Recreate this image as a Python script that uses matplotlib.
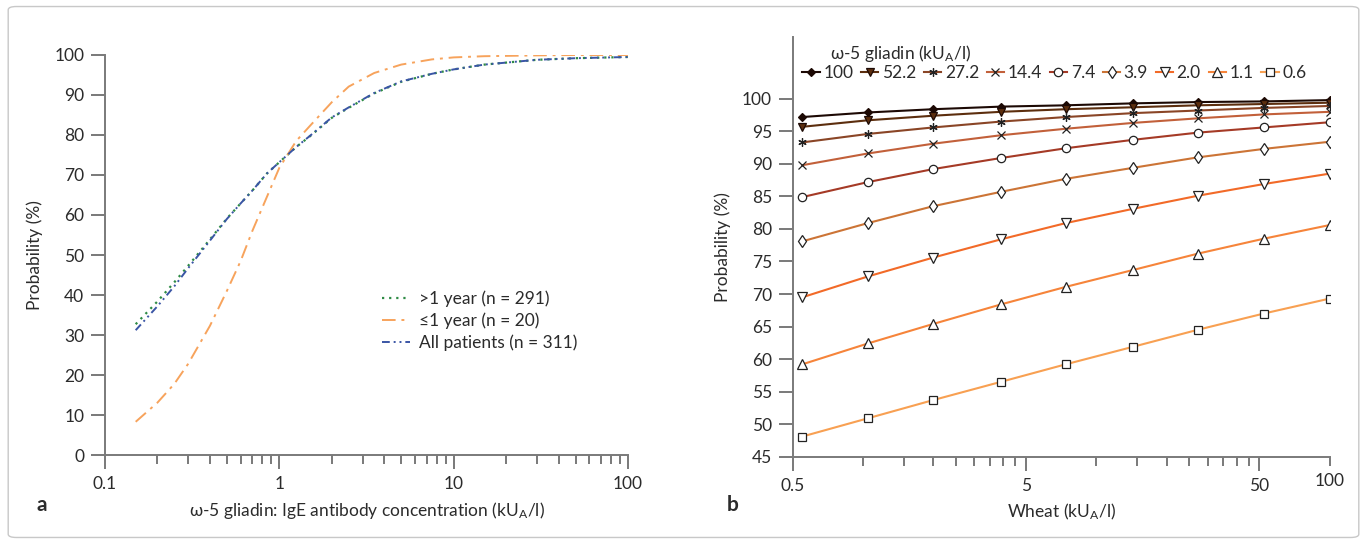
"""two-panel probability chart: omega-5 gliadin curves (a) and wheat/gliadin grid (b)"""

import matplotlib
matplotlib.use('Agg')
import matplotlib.pyplot as plt
from matplotlib.patches import FancyBboxPatch

plt.rcParams['font.family'] = ['Lato', 'DejaVu Sans']
plt.rcParams['mathtext.fontset'] = 'custom'
plt.rcParams['mathtext.rm'] = 'Lato'
plt.rcParams['mathtext.it'] = 'Lato:italic'

# panel a: IgE concentration vs probability
conc = [0.15, 0.2, 0.25, 0.3, 0.4, 0.5, 0.6, 0.7, 0.85, 1.0, 1.25, 1.5,
        2.0, 2.5, 3.5, 5, 7.5, 10, 15, 30, 50, 100]
prob_over1 = [32.7, 38.4, 43.2, 47.3, 53.9, 59.1, 62.9, 66.1, 70.4, 73.2, 77.0, 79.7,
              84.3, 86.8, 90.4, 93.3, 95.3, 96.4, 97.6, 98.8, 99.2, 99.5]
prob_under1 = [8.3, 13.1, 17.8, 22.8, 32.3, 41.0, 48.5, 56.0, 64.6, 71.8, 78.5, 82.3,
               88.2, 92.1, 95.5, 97.6, 98.9, 99.4, 99.7, 99.9, 100.0, 100.0]
prob_all = [31.2, 37.2, 42.2, 46.7, 53.6, 59.0, 62.9, 66.1, 70.4, 73.2, 77.0, 79.8,
            84.4, 86.9, 90.5, 93.4, 95.3, 96.4, 97.6, 98.8, 99.2, 99.5]

# panel b: wheat concentration vs probability, one series per gliadin level
wheat = [0.55, 1.05, 2.0, 3.9, 7.4, 14.4, 27.2, 52.2, 100]
gliadin_levels = ['100', '52.2', '27.2', '14.4', '7.4', '3.9', '2.0', '1.1', '0.6']
prob_b = {
    '100':  [97.2, 97.9, 98.4, 98.8, 99.0, 99.3, 99.5, 99.6, 99.8],
    '52.2': [95.7, 96.7, 97.4, 98.0, 98.4, 98.7, 99.0, 99.2, 99.4],
    '27.2': [93.3, 94.6, 95.6, 96.5, 97.2, 97.8, 98.2, 98.6, 98.9],
    '14.4': [89.8, 91.6, 93.1, 94.4, 95.4, 96.3, 97.0, 97.6, 98.0],
    '7.4':  [84.9, 87.2, 89.2, 90.9, 92.4, 93.7, 94.8, 95.6, 96.4],
    '3.9':  [78.1, 80.9, 83.5, 85.7, 87.7, 89.4, 91.0, 92.3, 93.4],
    '2.0':  [69.5, 72.7, 75.6, 78.4, 80.9, 83.1, 85.1, 86.9, 88.5],
    '1.1':  [59.2, 62.4, 65.4, 68.4, 71.1, 73.7, 76.2, 78.5, 80.6],
    '0.6':  [48.1, 50.9, 53.7, 56.5, 59.2, 61.9, 64.5, 67.0, 69.3],
}

# style per series: (line colour, marker, marker face, marker size)
styles_b = {
    '100':  ('#1c0904', 'D', '#1c0904', 4.5),
    '52.2': ('#5c2e0e', 'v', '#5c2e0e', 6),
    '27.2': ('#8a4526', (6, 2, 0), 'none', 6),
    '14.4': ('#c2603a', 'x', 'none', 6),
    '7.4':  ('#a53a26', 'o', 'white', 6),
    '3.9':  ('#cc7436', 'd', 'white', 6),
    '2.0':  ('#f26a28', 'v', 'white', 6.5),
    '1.1':  ('#f6843a', '^', 'white', 6.5),
    '0.6':  ('#f8a052', 's', 'white', 6),
}

spine_col = '#7a7a7a'
text_col = '#2b2b2b'
fs = 12.5

fig = plt.figure(figsize=(13.67, 5.44), dpi=100)

# thin rounded frame around the whole figure
fig.patches.append(FancyBboxPatch((0.006, 0.012), 0.988, 0.976,
                                  boxstyle='round,pad=0,rounding_size=0.006',
                                  transform=fig.transFigure, fill=False,
                                  edgecolor='#c8c8c8', linewidth=1.0))


def style_axes(ax):
    for side in ['top', 'right']:
        ax.spines[side].set_visible(False)
    for side in ['left', 'bottom']:
        ax.spines[side].set_color(spine_col)
        ax.spines[side].set_linewidth(1.4)
    ax.tick_params(which='major', direction='out', length=10, width=1.1,
                   color='#555555', labelsize=fs, labelcolor=text_col, pad=5)
    ax.tick_params(which='minor', direction='out', length=6.5, width=1.1,
                   color='#555555', labelsize=fs, labelcolor=text_col, pad=5)


# ---- panel a ----
ax1 = fig.add_axes([0.0768, 0.1636, 0.3826, 0.7353])
ax1.plot(conc, prob_over1, color='#2e8b45', lw=1.6, linestyle=(0, (1, 2.2)),
         label='>1 year (n = 291)')
ax1.plot(conc, prob_under1, color='#f7a35c', lw=1.4, linestyle=(0, (7, 3, 1.5, 3)),
         label='\u22641 year (n = 20)')
ax1.plot(conc, prob_all, color='#3a55a5', lw=1.4, linestyle=(0, (4, 2, 1, 2, 1, 2)),
         label='All patients (n = 311)')
ax1.set_xscale('log')
ax1.set_xlim(0.1, 100)
ax1.set_ylim(0, 100)
ax1.set_yticks(range(0, 101, 10))
ax1.set_xticks([0.1, 1, 10, 100], ['0.1', '1', '10', '100'])
ax1.set_xticks([m * d for d in [0.1, 1, 10] for m in range(2, 10)], minor=True)
ax1.xaxis.set_minor_formatter(plt.NullFormatter())
style_axes(ax1)
ax1.set_xlabel('\u03c9-5 gliadin: IgE antibody concentration (kU$_\\mathregular{A}$/l)',
               fontsize=fs, color=text_col, labelpad=6)
ax1.set_ylabel('Probability (%)', fontsize=fs, color=text_col, labelpad=8)
ax1.legend(loc='upper left', bbox_to_anchor=(0.5, 0.45), frameon=False,
           fontsize=fs, handlelength=1.6, handletextpad=0.5, labelspacing=0.3,
           labelcolor=text_col)

# ---- panel b ----
ax2 = fig.add_axes([0.5799, 0.1605, 0.3928, 0.7715])
for lev in gliadin_levels:
    col, mk, face, ms = styles_b[lev]
    edge = '#1c0904' if lev in ('100', '52.2') else '#222222'
    ax2.plot(wheat, prob_b[lev], color=col, lw=1.5, marker=mk, markersize=ms,
             markerfacecolor=face, markeredgecolor=edge, markeredgewidth=0.9,
             label=lev)
ax2.set_xscale('log')
ax2.set_xlim(0.5, 100)
ax2.set_ylim(45, 109.5)
ax2.set_yticks(range(45, 101, 5))
ax2.set_xticks([0.5, 5, 50], ['0.5', '5', '50'])
minor_b = [1, 1.5, 2, 2.5, 3, 3.5, 4, 4.5, 10, 15, 20, 25, 30, 35, 40, 45, 100]
ax2.set_xticks(minor_b, ['' if v != 100 else '100' for v in minor_b], minor=True)
style_axes(ax2)
ax2.set_xlabel('Wheat (kU$_\\mathregular{A}$/l)', fontsize=fs, color=text_col, labelpad=6)
ax2.set_ylabel('Probability (%)', fontsize=fs, color=text_col, labelpad=8)
ax2.text(0.07, 0.985, '\u03c9-5 gliadin (kU$_\\mathregular{A}$/l)', transform=ax2.transAxes,
         fontsize=fs, color=text_col, va='top', ha='left')
ax2.legend(loc='upper left', bbox_to_anchor=(0.005, 0.95), ncol=9, frameon=False,
           fontsize=fs, handlelength=1.0, handletextpad=0.2, columnspacing=0.45,
           borderaxespad=0, labelcolor=text_col)

fig.text(0.027, 0.06, 'a', fontsize=15, fontweight='bold', color=text_col)
fig.text(0.532, 0.06, 'b', fontsize=15, fontweight='bold', color=text_col)

fig.savefig('out.png', dpi=100)
